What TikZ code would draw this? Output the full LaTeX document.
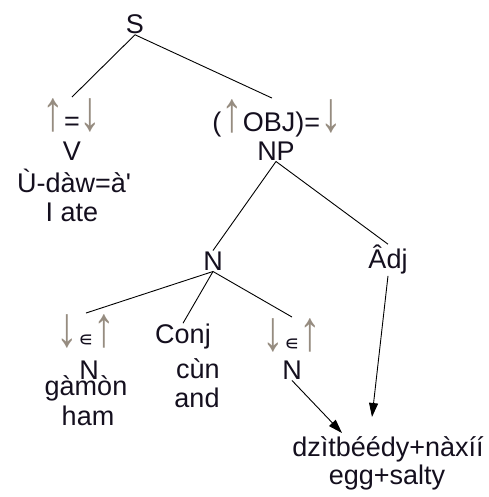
\documentclass[tikz,border=0pt]{standalone}
\usepackage{fontspec}
\usepackage{graphicx}
\setmainfont{Liberation Sans}
\newfontfamily\dv{DejaVu Sans}
\usetikzlibrary{arrows.meta}
\definecolor{arrcol}{RGB}{150,140,128}
\definecolor{txt}{RGB}{20,15,30}
\newcommand{\myup}{\textcolor{arrcol}{\scalebox{1.6}[2.1]{↑}}}
\newcommand{\mydn}{\textcolor{arrcol}{\scalebox{1.6}[2.1]{↓}}}
\newcommand{\myin}{{\dv\fontsize{21}{21}\selectfont ∊}}
\tikzset{
  lbl/.style={inner sep=1pt, text=txt, font=\fontsize{27}{30}\selectfont},
  br/.style={draw=black, line width=0.9pt},
  pt/.style={draw=black, line width=0.9pt, -{Triangle[length=14pt,width=9pt]}}
}
\begin{document}
\begin{tikzpicture}[x=1pt,y=-1pt]
\useasboundingbox (0,0) rectangle (488,497);
\node[lbl] (S) at (135,24) {S};
\node[lbl] (f1) at (72,115) {\myup=\mydn};
\node[lbl] (V) at (72,151) {V};
\node[lbl] (w1) at (74,181) {Ù-dàw=à\textquotesingle};
\node[lbl] (g1) at (72,212) {I ate};
\node[lbl] (f2) at (277,118) {(\myup OBJ)=\mydn};
\node[lbl] (NP) at (276,151) {NP};
\node[lbl] (N) at (213,261) {N};
\node[lbl] (Adj) at (388,260) {Âdj};
\node[lbl] (f3) at (86,331) {\mydn\myin\myup};
\node[lbl] (N1) at (89,370) {N};
\node[lbl] (w3) at (86,388) {gàmòn};
\node[lbl] (g3) at (88,416) {ham};
\node[lbl] (Conj) at (183,337) {Conj};
\node[lbl] (w4) at (198,369) {cùn};
\node[lbl] (g4) at (197,398) {and};
\node[lbl] (f5) at (292,335) {\mydn\myin\myup};
\node[lbl] (N2) at (292,370) {N};
\node[lbl] (w5) at (388,449) {dzìtbéédy+nàxíí};
\node[lbl] (g5) at (387,478) {egg+salty};
\coordinate (t1) at (342,433);
\coordinate (t2) at (372,417);
\draw[br] (S.south) -- (f1.north);
\draw[br] (S.south) -- (f2.north -| 272,0);
\draw[br] (NP.south) -- (N.north);
\draw[br] (NP.south) -- (Adj.north);
\draw[br] (N.south) -- (f3.north);
\draw[br] (N.south) -- (Conj.north);
\draw[br] (N.south) -- (f5.north);
\draw[pt] (N2.south) -- (t1);
\draw[pt] (Adj.south) -- (t2);
\end{tikzpicture}
\end{document}
